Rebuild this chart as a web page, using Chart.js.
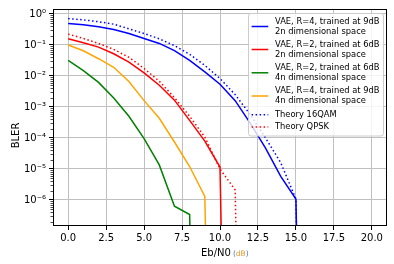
<!DOCTYPE html>
<html>
<head>
<meta charset="utf-8">
<title>BLER vs Eb/N0</title>
<script src="https://cdn.jsdelivr.net/npm/chart.js@4.4.1/dist/chart.umd.min.js"></script>
<style>
  html, body { margin: 0; padding: 0; background: #fff; }
</style>
</head>
<body>
<canvas id="blerChart" width="394" height="264"></canvas>
<script>
// Eb/N0 in dB, one value per simulated point
const ebn0 = [0, 1, 2, 3, 4, 5, 6, 7, 8, 9, 10, 11, 12, 13, 14, 15, 16, 17, 18, 19, 20];

// BLER; 0 = no block errors (drops off the log axis)
const vaeR4dim2n = [0.49, 0.447, 0.389, 0.316, 0.234, 0.162, 0.112, 0.066, 0.0316, 0.0135, 5.4e-3,
                    1.6e-3, 2.95e-4, 4.7e-5, 5.8e-6, 1.07e-6, 0, 0, 0, 0, 0];
const vaeR2dim2n = [0.158, 0.117, 0.085, 0.052, 0.028, 0.0126, 5.0e-3, 1.66e-3, 3.7e-4, 7.9e-5, 1.15e-5,
                    0, 0, 0, 0, 0, 0, 0, 0, 0, 0];
const vaeR2dim4n = [0.0316, 0.0148, 6.2e-3, 1.95e-3, 5.0e-4, 9.5e-5, 1.35e-5, 6.3e-7, 3.4e-7,
                    0, 0, 0, 0, 0, 0, 0, 0, 0, 0, 0, 0];
const vaeR4dim4n = [0.1, 0.065, 0.036, 0.019, 6.6e-3, 1.6e-3, 4.3e-4, 7.4e-5, 1.2e-5, 1.3e-6,
                    0, 0, 0, 0, 0, 0, 0, 0, 0, 0, 0];
const theory16qam = [0.708, 0.646, 0.562, 0.468, 0.331, 0.234, 0.158, 0.095, 0.05, 0.0219, 8.3e-3,
                     2.5e-3, 5.6e-4, 1.0e-4, 1.6e-5, 1.07e-6, 0, 0, 0, 0, 0];
const theoryQpsk = [0.224, 0.162, 0.112, 0.072, 0.04, 0.0174, 6.8e-3, 2.0e-3, 5.0e-4, 1.07e-4, 1.0e-5,
                    2.1e-6, 0, 0, 0, 0, 0, 0, 0, 0, 0];

const legendLabels = [
    ['VAE, R=4, trained at 9dB', '2n dimensional space'],
    ['VAE, R=2, trained at 6dB', '2n dimensional space'],
    ['VAE, R=2, trained at 6dB', '4n dimensional space'],
    ['VAE, R=4, trained at 9dB', '4n dimensional space'],
    ['Theory 16QAM'],
    ['Theory QPSK']
];

const xTicks = [0, 2.5, 5, 7.5, 10, 12.5, 15, 17.5, 20];
const yDecades = [0, -1, -2, -3, -4, -5, -6];

const FONT = "'DejaVu Sans', sans-serif";
const GRID = '#c0c0c0';
const SUP = { '0': '\u2070', '1': '\u00b9', '2': '\u00b2', '3': '\u00b3', '4': '\u2074',
              '5': '\u2075', '6': '\u2076', '-': '\u207b' };

function isDecade(v) {
    const l = Math.log10(v);
    return Math.abs(l - Math.round(l)) < 1e-6;
}

function decadeLabel(v) {
    const e = String(Math.round(Math.log10(v)));
    return '10' + e.split('').map(c => SUP[c]).join('');
}

// zeros are pushed far below the axis, so the line falls straight down like matplotlib
function toPoints(vals) {
    return ebn0.map((x, i) => ({ x: x, y: vals[i] === 0 ? 1e-30 : vals[i] }));
}

const styles = [
    { color: '#0000ff', dotted: false },
    { color: '#ff0000', dotted: false },
    { color: '#008000', dotted: false },
    { color: '#ffa500', dotted: false },
    { color: '#0000ff', dotted: true },
    { color: '#ff0000', dotted: true }
];
const seriesData = [vaeR4dim2n, vaeR2dim2n, vaeR2dim4n, vaeR4dim4n, theory16qam, theoryQpsk];

const datasets = seriesData.map((vals, i) => ({
    label: legendLabels[i].join(' '),
    data: toPoints(vals),
    borderColor: styles[i].color,
    borderWidth: 1.5,
    borderDash: styles[i].dotted ? [1.5, 2.5] : [],
    pointRadius: 0,
    tension: 0,
    fill: false
})).reverse();

const yMin = Math.pow(10, -6.84);
const yMax = Math.pow(10, 0.16);

const decorPlugin = {
    id: 'decor',
    afterDraw(chart) {
        const { ctx, chartArea: a, scales } = chart;
        ctx.save();

        // minor y ticks
        ctx.strokeStyle = '#000';
        ctx.lineWidth = 0.7;
        scales.y.ticks.forEach(t => {
            if (isDecade(t.value)) return;
            const py = Math.round(scales.y.getPixelForValue(t.value)) + 0.5;
            ctx.beginPath();
            ctx.moveTo(a.left - 2.5, py);
            ctx.lineTo(a.left, py);
            ctx.stroke();
        });

        // frame
        ctx.lineWidth = 1;
        ctx.strokeStyle = '#000';
        ctx.strokeRect(a.left + 0.5, a.top + 0.5, a.right - a.left - 1, a.bottom - a.top - 1);

        // legend box
        const lx = 248.5, ly = 13.5, lw = 135, lh = 122.5, r = 2.5;
        ctx.beginPath();
        ctx.moveTo(lx + r, ly);
        ctx.lineTo(lx + lw - r, ly);
        ctx.arcTo(lx + lw, ly, lx + lw, ly + r, r);
        ctx.lineTo(lx + lw, ly + lh - r);
        ctx.arcTo(lx + lw, ly + lh, lx + lw - r, ly + lh, r);
        ctx.lineTo(lx + r, ly + lh);
        ctx.arcTo(lx, ly + lh, lx, ly + lh - r, r);
        ctx.lineTo(lx, ly + r);
        ctx.arcTo(lx, ly, lx + r, ly, r);
        ctx.closePath();
        ctx.fillStyle = 'rgba(255,255,255,0.8)';
        ctx.fill();
        ctx.strokeStyle = '#cccccc';
        ctx.stroke();

        const centers = [26.5, 49.5, 72.8, 96, 114.7, 127];
        ctx.font = '8.33px ' + FONT;
        ctx.textBaseline = 'middle';
        ctx.textAlign = 'left';
        legendLabels.forEach((lines, i) => {
            const cy = centers[i];
            ctx.strokeStyle = styles[i].color;
            ctx.lineWidth = 1.5;
            ctx.setLineDash(styles[i].dotted ? [1.5, 2.5] : []);
            ctx.beginPath();
            ctx.moveTo(251.6, cy);
            ctx.lineTo(268.3, cy);
            ctx.stroke();
            ctx.setLineDash([]);
            ctx.fillStyle = '#000';
            if (lines.length === 1) {
                ctx.fillText(lines[0], 275, cy);
            } else {
                ctx.fillText(lines[0], 275, cy - 5.15);
                ctx.fillText(lines[1], 275, cy + 5.15);
            }
        });

        // x axis title
        ctx.textBaseline = 'alphabetic';
        ctx.font = '10px ' + FONT;
        ctx.fillStyle = '#000';
        let tx = 201;
        ctx.fillText('Eb/N0', tx, 255.5);
        tx += ctx.measureText('Eb/N0').width + 2;
        ctx.font = '7.5px ' + FONT;
        [['(', '#3b7ad6'], ['dB', '#e59a2b'], [')', '#3b7ad6']].forEach(([s, c]) => {
            ctx.fillStyle = c;
            ctx.fillText(s, tx, 255.5);
            tx += ctx.measureText(s).width;
        });

        // y axis title
        ctx.font = '10px ' + FONT;
        ctx.fillStyle = '#000';
        ctx.translate(19.3, 135.5);
        ctx.rotate(-Math.PI / 2);
        ctx.textAlign = 'center';
        ctx.fillText('BLER', 0, 0);

        ctx.restore();
    }
};

function yTickValues() {
    const vals = [];
    for (let e = -7; e <= 0; e++) {
        for (let k = 1; k <= 9; k++) {
            const v = k * Math.pow(10, e);
            if (v >= yMin && v <= yMax) vals.push(v);
        }
    }
    return vals;
}

const chart = new Chart(document.getElementById('blerChart'), {
    type: 'line',
    data: { datasets: datasets },
    options: {
        responsive: false,
        animation: false,
        devicePixelRatio: 1,
        layout: { padding: { left: 0, right: 7, top: 8, bottom: 0 } },
        plugins: {
            legend: { display: false },
            tooltip: { enabled: false }
        },
        scales: {
            x: {
                type: 'linear',
                min: -1,
                max: 21,
                afterBuildTicks: axis => { axis.ticks = xTicks.map(v => ({ value: v })); },
                afterFit: axis => { axis.height = 38; },
                border: { display: false },
                grid: { color: GRID, lineWidth: 1, tickColor: '#000', tickLength: 4 },
                ticks: {
                    autoSkip: false,
                    maxRotation: 0,
                    padding: 2,
                    color: '#000',
                    font: { family: FONT, size: 10 },
                    callback: v => v.toFixed(1)
                }
            },
            y: {
                type: 'logarithmic',
                min: yMin,
                max: yMax,
                bounds: 'data',
                afterBuildTicks: axis => { axis.ticks = yTickValues().map(v => ({ value: v })); },
                afterFit: axis => { axis.width = 53; },
                border: { display: false },
                grid: {
                    color: c => (c.tick && isDecade(c.tick.value)) ? GRID : 'rgba(0,0,0,0)',
                    tickColor: c => (c.tick && isDecade(c.tick.value)) ? '#000' : 'rgba(0,0,0,0)',
                    lineWidth: 1,
                    tickLength: 4
                },
                ticks: {
                    autoSkip: false,
                    padding: 3,
                    color: '#000',
                    font: { family: FONT, size: 10 },
                    callback: v => isDecade(v) ? decadeLabel(v) : ''
                }
            }
        }
    },
    plugins: [decorPlugin]
});
</script>
</body>
</html>
